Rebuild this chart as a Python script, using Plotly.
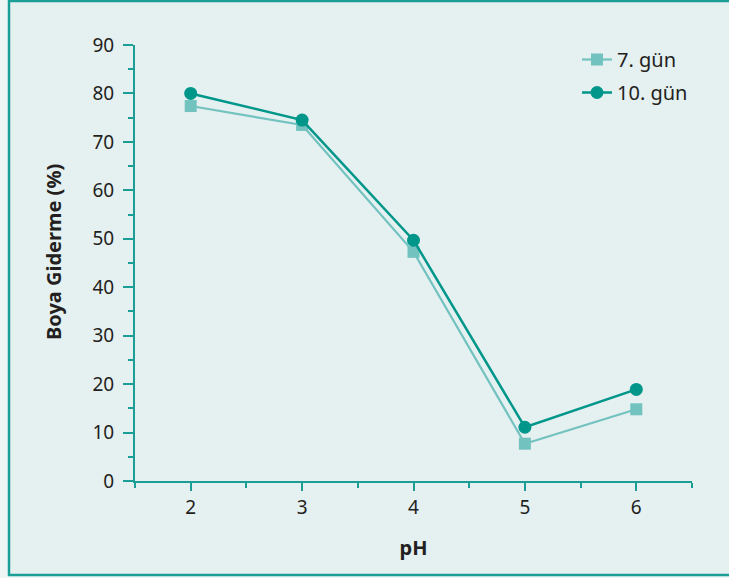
import plotly.graph_objects as go

ph = [2, 3, 4, 5, 6]
gun7 = [77.4, 73.5, 47.3, 7.7, 14.8]
gun10 = [80.0, 74.5, 49.7, 11.1, 18.9]
x_ticks = [2, 3, 4, 5, 6]
y_ticks = [0, 10, 20, 30, 40, 50, 60, 70, 80, 90]

W, H = 729, 578
L, R, T, B = 135, 37, 45, 97
pw, ph_ = W - L - R, H - T - B

def px(x):
    return (x - L) / pw

def py(y):
    return (H - B - y) / ph_

AX = "#1a9e96"
TXT = "#231f20"
BG = "#e5f0f1"
FONT = "Noto Sans"

fig = go.Figure()
fig.add_trace(go.Scatter(
    x=ph, y=gun7, name="7. gün", mode="lines+markers", legendgroup="a",
    line=dict(color="#72c2bf", width=2.2),
    marker=dict(symbol="square", size=12, color="#72c2bf"),
))
fig.add_trace(go.Scatter(
    x=ph, y=gun10, name="10. gün", mode="lines+markers", legendgroup="b",
    line=dict(color="#00968a", width=2.5),
    marker=dict(symbol="circle", size=13, color="#00968a"),
))

axis_common = dict(
    showline=True, linecolor=AX, linewidth=2, showgrid=False, zeroline=False,
    ticks="outside", tickwidth=2, tickcolor=AX,
    tickfont=dict(family=FONT, size=19, color=TXT),
)
fig.update_xaxes(
    range=[1.5, 6.5], tickvals=x_ticks, ticklen=8, **axis_common,
    minor=dict(ticks="outside", ticklen=5, tickwidth=2, tickcolor=AX, dtick=0.5, tick0=1.5),
    title=dict(text="<b>pH</b>", font=dict(family=FONT, size=20, color=TXT), standoff=22),
)
fig.update_yaxes(
    range=[0, 90], tickvals=y_ticks, ticklen=10, ticklabelstandoff=5, **axis_common,
    minor=dict(ticks="outside", ticklen=5, tickwidth=2, tickcolor=AX, dtick=5, tick0=0),
)

fig.add_annotation(
    text="<b>Boya Giderme (%)</b>", textangle=-90, showarrow=False,
    xref="paper", yref="paper", x=px(53), y=py(252), xanchor="center", yanchor="middle",
    font=dict(family=FONT, size=20, color=TXT),
)

fig.add_shape(type="rect", xref="paper", yref="paper",
              x0=px(9), x1=px(745), y0=py(575), y1=py(1),
              line=dict(color=AX, width=2.5), fillcolor=BG, layer="below")

fig.update_layout(
    width=W, height=H,
    margin=dict(l=L, r=R, t=T, b=B),
    paper_bgcolor="#edf5f5", plot_bgcolor=BG,
    font=dict(family=FONT, color=TXT),
    legend=dict(x=px(577), y=py(40), xanchor="left", yanchor="top",
                traceorder="grouped", tracegroupgap=4,
                font=dict(family=FONT, size=20, color=TXT),
                bgcolor="rgba(0,0,0,0)"),
)

fig.write_html("out.html", config={"displayModeBar": False},
               post_script="document.body.style.margin='0px';")
